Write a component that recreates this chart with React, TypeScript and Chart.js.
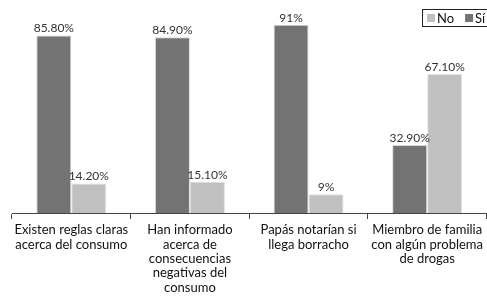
import React, { useEffect, useRef } from "react";
import { Chart, registerables } from "chart.js";

Chart.register(...registerables);

const categories: string[][] = [
  ["Existen reglas claras", "acerca del consumo"],
  ["Han informado", "acerca de", "consecuencias", "negativas del", "consumo"],
  ["Papás notarían si", "llega borracho"],
  ["Miembro de familia", "con algún problema", "de drogas"],
];
const siValues = [85.8, 84.9, 91, 32.9];
const noValues = [14.2, 15.1, 9, 67.1];
const siLabels = ["85.80%", "84.90%", "91%", "32.90%"];
const noLabels = ["14.20%", "15.10%", "9%", "67.10%"];
const legendOrder = ["No", "Sí"];

const DARK = "#737373";
const LIGHT = "#c0c0c0";
const FONT = "Lato, 'Open Sans', sans-serif";

const valueLabelPlugin = {
  id: "valueLabels",
  afterDatasetsDraw(chart: any) {
    const ctx = chart.ctx;
    const labelSets = [siLabels, noLabels];
    ctx.save();
    ctx.font = `12px ${FONT}`;
    ctx.fillStyle = "#333";
    ctx.textAlign = "center";
    ctx.textBaseline = "bottom";
    chart.data.datasets.forEach((_ds: any, di: number) => {
      const meta = chart.getDatasetMeta(di);
      meta.data.forEach((bar: any, i: number) => {
        ctx.fillText(labelSets[di][i], bar.x, bar.y - 1);
      });
    });
    ctx.restore();
  },
};

const legendPlugin = {
  id: "boxLegend",
  afterDraw(chart: any) {
    const ctx = chart.ctx;
    ctx.save();
    ctx.font = `13px ${FONT}`;
    ctx.textBaseline = "middle";
    const top = 9;
    const h = 17;
    const left = 422;
    const right = chart.width + 2;
    ctx.strokeStyle = "#222";
    ctx.lineWidth = 1;
    ctx.strokeRect(left + 0.5, top + 0.5, right - left, h);
    const colors = [LIGHT, DARK];
    let x = left + 5;
    const cy = top + h / 2 + 0.5;
    legendOrder.forEach((name, i) => {
      ctx.fillStyle = colors[i];
      ctx.fillRect(x, cy - 4, 8, 8);
      x += 10;
      ctx.fillStyle = "#111";
      ctx.fillText(name, x, cy + 0.5);
      x += ctx.measureText(name).width + 11;
    });
    ctx.restore();
  },
};

export default function App() {
  const ref = useRef<HTMLCanvasElement>(null);
  useEffect(() => {
    if (!ref.current) return;
    const chart = new Chart(ref.current, {
      type: "bar",
      data: {
        labels: categories,
        datasets: [
          {
            label: "Sí",
            data: siValues,
            backgroundColor: DARK,
            borderColor: "#d8d8d8",
            borderWidth: 1,
            categoryPercentage: 0.59,
            barPercentage: 1.0,
          },
          {
            label: "No",
            data: noValues,
            backgroundColor: LIGHT,
            borderColor: "#e0e0e0",
            borderWidth: 1,
            categoryPercentage: 0.59,
            barPercentage: 1.0,
          },
        ],
      },
      options: {
        animation: false,
        responsive: false,
        maintainAspectRatio: false,
        layout: { padding: { left: 12, right: 0, top: 6, bottom: 0 } },
        plugins: {
          legend: { display: false },
          tooltip: { enabled: false },
        },
        scales: {
          y: { display: false, min: 0, max: 100 },
          x: {
            afterFit(scale: any) {
              scale.height = 85;
            },
            grid: {
              drawOnChartArea: false,
              drawTicks: true,
              tickLength: 6,
              color: "#444",
              offset: true,
            },
            border: { display: true, color: "#444", width: 1 },
            ticks: {
              color: "#111",
              font: { family: FONT, size: 13, lineHeight: 1.1 },
              padding: 4,
              maxRotation: 0,
              autoSkip: false,
            },
          },
        },
      },
      plugins: [valueLabelPlugin, legendPlugin],
    });
    return () => chart.destroy();
  }, []);
  return (
    <div style={{ position: "fixed", left: 0, top: 0, width: 487, height: 298, background: "#fff" }}>
      <canvas ref={ref} width={487} height={298} style={{ display: "block" }} />
    </div>
  );
}
